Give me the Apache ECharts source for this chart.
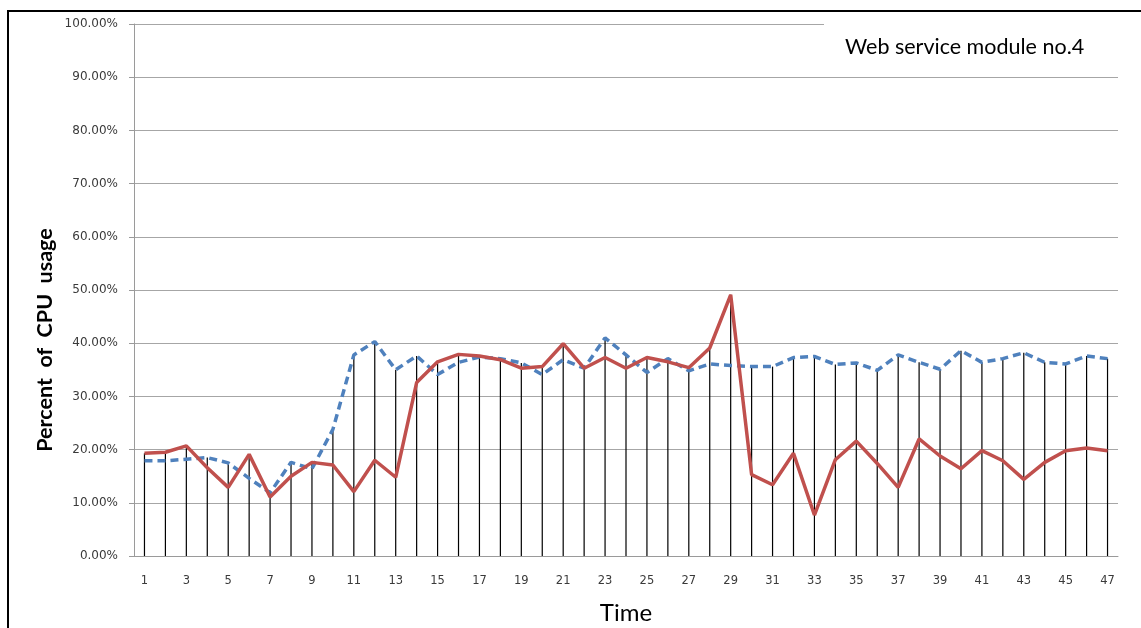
<!DOCTYPE html>
<html>
<head>
<meta charset="utf-8">
<script src="https://cdn.jsdelivr.net/npm/echarts@6/dist/echarts.min.js"></script>
<style>
  html, body { margin: 0; padding: 0; background: #fff; }
  #chart { width: 1141px; height: 628px; }
</style>
</head>
<body>
<div id="chart"></div>
<script>
// Time steps 1..47
const timeSteps = Array.from({ length: 47 }, (_, i) => String(i + 1));

// CPU usage (%) – dashed blue series
const cpuDashed = [
  17.9, 17.9, 18.2, 18.5, 17.5, 14.6, 11.9, 17.6, 16.4, 23.8,
  37.8, 40.3, 35.0, 37.6, 34.1, 36.4, 37.4, 37.1, 36.3, 34.1,
  36.9, 35.3, 41.0, 37.8, 34.5, 37.1, 34.8, 36.1, 35.8, 35.6,
  35.6, 37.3, 37.5, 36.0, 36.3, 34.9, 37.8, 36.4, 35.1, 38.6,
  36.4, 37.1, 38.2, 36.4, 36.1, 37.6, 37.1
];

// CPU usage (%) – solid red series
const cpuSolid = [
  19.3, 19.5, 20.7, 16.6, 12.9, 19.1, 11.1, 15.0, 17.6, 17.1,
  12.1, 18.0, 14.8, 32.6, 36.5, 37.9, 37.6, 36.9, 35.3, 35.6,
  39.9, 35.3, 37.3, 35.3, 37.3, 36.5, 35.4, 39.1, 49.1, 15.3,
  13.4, 19.3, 7.7, 18.1, 21.6, 17.4, 12.9, 22.0, 18.8, 16.4,
  19.8, 17.9, 14.4, 17.6, 19.8, 20.3, 19.8
];

// Drop lines reach the higher of the two series at each step
const dropHeights = cpuDashed.map((v, i) => Math.max(v, cpuSolid[i]));

const chart = echarts.init(document.getElementById('chart'), null, { renderer: 'canvas' });

chart.setOption({
  animation: false,
  backgroundColor: '#fff',
  title: {
    text: 'Web service module no.4',
    left: 824,
    top: 12,
    padding: [24, 80, 14, 21],
    backgroundColor: '#fff',
    textStyle: { fontFamily: 'Lato', fontWeight: 'normal', fontSize: 21.5, color: '#000' }
  },
  grid: { left: 134, right: 23, top: 24, bottom: 72, outerBoundsMode: 'none', containLabel: false },
  xAxis: {
    type: 'category',
    data: timeSteps,
    boundaryGap: true,
    name: 'Time',
    nameLocation: 'middle',
    nameGap: 45,
    nameTextStyle: { fontFamily: 'Lato', fontSize: 24, color: '#000' },
    axisLine: { lineStyle: { color: '#9a9a9a', width: 1 } },
    axisTick: { show: false },
    axisLabel: {
      interval: 1,
      margin: 19,
      fontFamily: 'DejaVu Sans',
      fontSize: 11.5,
      color: '#3a3a3a'
    },
    splitLine: { show: false }
  },
  yAxis: {
    type: 'value',
    min: 0,
    max: 100,
    interval: 10,
    axisLine: { show: true, lineStyle: { color: '#9a9a9a', width: 1 } },
    axisTick: { show: true, length: 5, lineStyle: { color: '#9a9a9a' } },
    axisLabel: {
      margin: 16,
      fontFamily: 'DejaVu Sans',
      fontSize: 12,
      color: '#3a3a3a',
      formatter: v => v.toFixed(2) + '%'
    },
    splitLine: { lineStyle: { color: '#a6a6a6', width: 1 } }
  },
  graphic: [
    {
      type: 'polyline',
      z: 100,
      shape: { points: [[8, 640], [8, 11], [1150, 11]] },
      style: { stroke: '#000', lineWidth: 2, fill: null }
    },
    {
      type: 'text',
      z: 100,
      x: 45,
      y: 340,
      rotation: Math.PI / 2,
      style: {
        text: 'Percent  of  CPU  usage',
        font: 'bold 21.5px Lato',
        fill: '#000',
        align: 'center',
        verticalAlign: 'middle'
      }
    }
  ],
  series: [
    {
      name: 'drop',
      type: 'bar',
      data: dropHeights,
      barWidth: 1.2,
      itemStyle: { color: '#000' },
      z: 1,
      silent: true
    },
    {
      name: 'dashed',
      type: 'line',
      data: cpuDashed,
      showSymbol: false,
      symbol: 'none',
      lineStyle: { color: '#4F81BD', width: 3.5, type: [8, 5] },
      z: 2
    },
    {
      name: 'solid',
      type: 'line',
      data: cpuSolid,
      showSymbol: false,
      symbol: 'none',
      lineStyle: { color: '#C0504D', width: 3.5 },
      z: 3
    }
  ]
});
</script>
</body>
</html>
